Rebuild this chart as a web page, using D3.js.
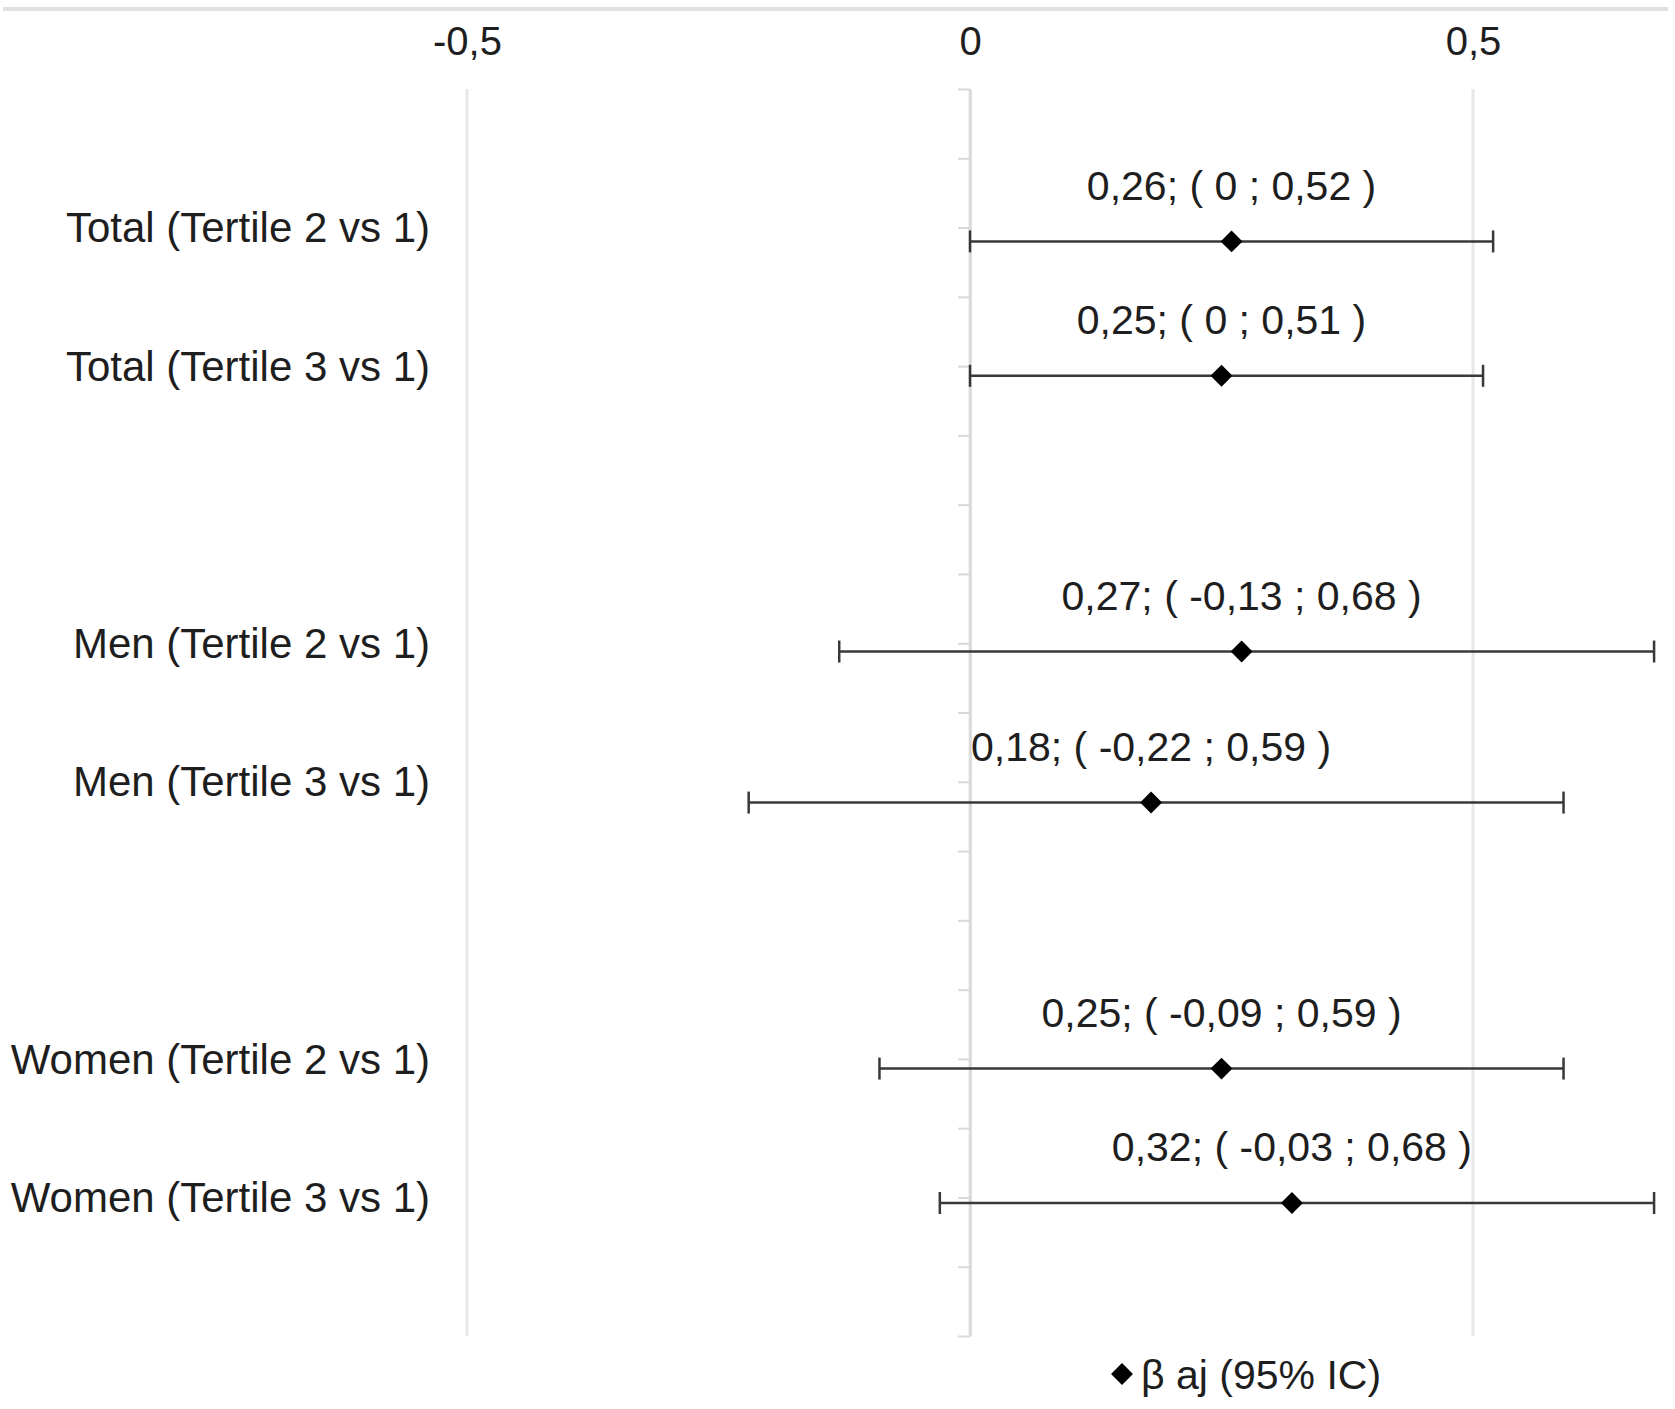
<!DOCTYPE html>
<html>
<head>
<meta charset="utf-8">
<script src="https://cdn.jsdelivr.net/npm/d3@7"></script>
<style>
  body { margin: 0; background: #fff; }
  text { font-family: 'Liberation Sans', Arial, sans-serif; fill: #1e1e1e; }
</style>
</head>
<body>
<script>
// forest plot data (beta adjusted, 95% IC)
var labels = [
  'Total (Tertile 2 vs 1)',
  'Total (Tertile 3 vs 1)',
  'Men (Tertile 2 vs 1)',
  'Men (Tertile 3 vs 1)',
  'Women (Tertile 2 vs 1)',
  'Women (Tertile 3 vs 1)'
];
var labelRows = [2, 4, 8, 10, 14, 16];
var pointRows = [2.2, 4.14, 8.12, 10.3, 14.14, 16.08];
var beta = [0.26, 0.25, 0.27, 0.18, 0.25, 0.32];
var lower = [0, 0, -0.13, -0.22, -0.09, -0.03];
var upper = [0.52, 0.51, 0.68, 0.59, 0.59, 0.68];
var xTicks = [-0.5, 0, 0.5];
var rowCount = 18;
var legendLabel = 'β aj (95% IC)';

var svg = d3.select('body').append('svg').attr('width', 1675).attr('height', 1409);

var xScale = d3.scaleLinear().domain([-0.5, 0.5]).range([467, 1473]);
var yScale = d3.scaleLinear().domain([0, rowCount]).range([89, 1336]);

function fmt(v) {
  return String(v).replace('.', ',');
}

var data = labels.map(function (d, i) {
  return { label: d, row: labelRows[i], y: pointRows[i], b: beta[i], lo: lower[i], hi: upper[i] };
});

// light border line at the top of the picture
svg.append('line')
  .attr('x1', 3).attr('x2', 1668)
  .attr('y1', 9).attr('y2', 9)
  .attr('stroke', '#e0e0e0')
  .attr('stroke-width', 4);

// vertical gridlines
svg.append('g')
  .selectAll('line')
  .data(xTicks)
  .enter()
  .append('line')
  .attr('x1', function (d) { return xScale(d); })
  .attr('x2', function (d) { return xScale(d); })
  .attr('y1', yScale(0))
  .attr('y2', yScale(rowCount))
  .attr('stroke', '#e8e8e8')
  .attr('stroke-width', 3);

// x tick labels at top
var xAxis = svg.append('g')
  .attr('transform', 'translate(0,' + yScale(0) + ')')
  .call(d3.axisTop(xScale).tickValues(xTicks).tickSize(0).tickPadding(34).tickFormat(fmt));
xAxis.select('.domain').remove();
xAxis.selectAll('text')
  .attr('font-size', '40px')
  .attr('font-family', "'Liberation Sans', Arial, sans-serif")
  .attr('fill', '#1e1e1e');

// y axis at zero with a tick between every row
var yAxis = svg.append('g')
  .attr('transform', 'translate(' + xScale(0) + ',0)')
  .call(d3.axisLeft(yScale).tickValues(d3.range(0, rowCount + 1)).tickSize(12).tickSizeOuter(0).tickFormat(''));
yAxis.select('.domain').attr('stroke', '#d9d9d9').attr('stroke-width', 2.5);
yAxis.selectAll('.tick line').attr('stroke', '#d9d9d9').attr('stroke-width', 2);

// row labels
svg.append('g')
  .selectAll('text')
  .data(data)
  .enter()
  .append('text')
  .attr('x', 430)
  .attr('y', function (d) { return yScale(d.row); })
  .attr('dy', '0.35em')
  .attr('text-anchor', 'end')
  .attr('font-size', '42px')
  .text(function (d) { return d.label; });

// error bars
var bars = svg.append('g')
  .selectAll('g')
  .data(data)
  .enter()
  .append('g')
  .attr('stroke', '#383838')
  .attr('stroke-width', 2.5);

bars.append('line')
  .attr('x1', function (d) { return xScale(d.lo); })
  .attr('x2', function (d) { return xScale(d.hi); })
  .attr('y1', function (d) { return yScale(d.y); })
  .attr('y2', function (d) { return yScale(d.y); });

bars.append('line')
  .attr('x1', function (d) { return xScale(d.lo); })
  .attr('x2', function (d) { return xScale(d.lo); })
  .attr('y1', function (d) { return yScale(d.y) - 11; })
  .attr('y2', function (d) { return yScale(d.y) + 11; });

bars.append('line')
  .attr('x1', function (d) { return xScale(d.hi); })
  .attr('x2', function (d) { return xScale(d.hi); })
  .attr('y1', function (d) { return yScale(d.y) - 11; })
  .attr('y2', function (d) { return yScale(d.y) + 11; });

// diamond markers
var diamond = d3.symbol().type(d3.symbolSquare).size(240);

svg.append('g')
  .selectAll('path')
  .data(data)
  .enter()
  .append('path')
  .attr('d', diamond)
  .attr('transform', function (d) {
    return 'translate(' + xScale(d.b) + ',' + yScale(d.y) + ') rotate(45)';
  })
  .attr('fill', '#000');

// value labels
svg.append('g')
  .selectAll('text')
  .data(data)
  .enter()
  .append('text')
  .attr('x', function (d) { return xScale(d.b); })
  .attr('y', function (d) { return yScale(d.y) - 56; })
  .attr('dy', '0.35em')
  .attr('text-anchor', 'middle')
  .attr('font-size', '41px')
  .text(function (d) {
    return fmt(d.b) + '; ( ' + fmt(d.lo) + ' ; ' + fmt(d.hi) + ' )';
  });

// legend
var legend = svg.append('g').attr('transform', 'translate(1122,1374)');
legend.append('path')
  .attr('d', diamond)
  .attr('transform', 'rotate(45)')
  .attr('fill', '#000');
legend.append('text')
  .attr('x', 19)
  .attr('y', 1)
  .attr('dy', '0.35em')
  .attr('font-size', '41px')
  .text(legendLabel);
</script>
</body>
</html>
